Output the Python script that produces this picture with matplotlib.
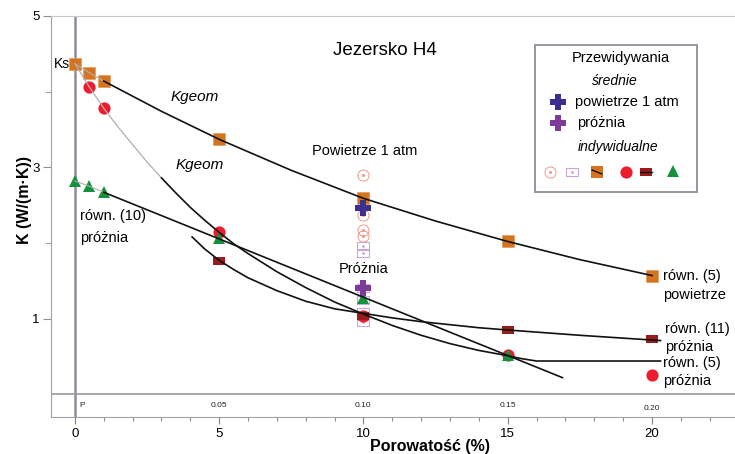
import matplotlib
matplotlib.use('Agg')
import matplotlib.pyplot as plt
from matplotlib.patches import Rectangle
from matplotlib.ticker import MultipleLocator, FixedLocator

plt.rcParams['font.family'] = ['Liberation Sans', 'DejaVu Sans']

# ---------------- data ----------------
por_orange = [0, 0.5, 1, 5, 10, 15, 20]
k_orange = [4.37, 4.25, 4.14, 3.37, 2.59, 2.02, 1.57]
por_red = [0.5, 1, 5, 10, 15, 20]
k_red = [4.06, 3.78, 2.14, 1.04, 0.52, 0.25]
por_green = [0, 0.5, 1, 5, 10, 15]
k_green = [2.82, 2.75, 2.67, 2.06, 1.27, 0.52]
por_dred = [5, 10, 15, 20]
k_dred = [1.76, 1.03, 0.85, 0.73]

por_mean = [10]
k_mean_air = [2.46]
k_mean_vac = [1.41]
k_ind_air = [2.90, 2.37, 2.17, 2.09]
k_ind_vac = [1.96, 1.87, 1.41, 1.25, 1.09, 1.03, 0.95]

# model curves
air_gray_por = [0, 0.5, 1]
air_gray_k = [4.37, 4.25, 4.14]
air_por = [1, 3, 5, 7.5, 10, 12.5, 15, 17.5, 20]
air_k = [4.14, 3.74, 3.37, 2.96, 2.59, 2.29, 2.02, 1.78, 1.57]

geom_gray_por = [0, 0.5, 1, 1.5, 2, 2.5, 3]
geom_gray_k = [4.37, 4.06, 3.78, 3.53, 3.30, 3.07, 2.86]
geom_por = [3, 3.5, 4, 4.5, 5, 5.5, 6, 7, 8, 9, 10, 11, 12, 13, 14, 15, 15.5, 16, 20.3]
geom_k = [2.86, 2.66, 2.47, 2.30, 2.14, 1.99, 1.86, 1.62, 1.41, 1.22, 1.06, 0.91,
          0.78, 0.67, 0.58, 0.51, 0.47, 0.44, 0.44]

eq10_gray_por = [0, 0.5, 1]
eq10_gray_k = [2.82, 2.75, 2.67]
eq10_por = [1, 16.9]
eq10_k = [2.67, 0.22]

eq11_por = [4.06, 4.5, 5, 5.5, 6, 7, 8, 9, 10, 11, 12, 13, 14, 15, 17.5, 20.3]
eq11_k = [2.08, 1.92, 1.77, 1.65, 1.54, 1.37, 1.23, 1.13, 1.07, 1.01, 0.96, 0.92,
          0.88, 0.85, 0.78, 0.71]

x_major = [0, 5, 10, 15, 20]
x_labels = ['0', '5', '10', '15', '20']
y_major = [1, 3, 5]
y_labels = ['1', '3', '5']
frac_pos = [0.25, 5, 10, 15, 20]
frac_labels = ['P', '0.05', '0.10', '0.15', '0.20']

# ---------------- colours ----------------
C_OR = '#D4741F'
C_RED = '#EE1C2E'
C_GRN = '#14913C'
C_DRED = '#9B1B1B'
C_BLUE = '#3B2F8F'
C_PURP = '#7E3C9A'
C_OC = '#F29A8A'
C_OR2 = '#C9A6DC'

W, H = 735, 454
fig = plt.figure(figsize=(W / 100, H / 100), dpi=100)
ax = fig.add_axes([51 / W, 37 / H, (W - 51) / W, (417 - 16) / H])
ax.set_xlim(-0.83, 22.88)
ax.set_ylim(-0.30, 5.0)

rect_marker = [(-1, -0.58), (1, -0.58), (1, 0.58), (-1, 0.58), (-1, -0.58)]
orect_marker = [(-1, -0.62), (1, -0.62), (1, 0.62), (-1, 0.62), (-1, -0.62)]

# reference lines
ax.axvline(0, color='#8C8CA0', lw=1.8, zorder=1)
ax.axhline(0, color='#9A9A9A', lw=1.2, zorder=1)

# individual predictions at 10 %
ax.plot([10] * len(k_ind_air), k_ind_air, ls='none', marker='o', ms=8, mfc='none',
        mec=C_OC, mew=0.7, zorder=2)
ax.plot([10] * len(k_ind_air), k_ind_air, ls='none', marker='o', ms=1.2,
        color=C_OC, zorder=2)
ax.plot([10] * len(k_ind_vac), k_ind_vac, ls='none', marker=orect_marker, ms=9,
        mfc='none', mec=C_OR2, mew=0.8, zorder=2)
ax.plot([10] * len(k_ind_vac), k_ind_vac, ls='none', marker='o', ms=1.0,
        color=C_OR2, zorder=2)

# point markers
ax.plot(por_orange, k_orange, ls='none', marker='s', ms=8.5, color=C_OR,
        mec='#E49A5A', mew=0.5, zorder=3)
ax.plot(por_red, k_red, ls='none', marker='o', ms=8.8, color=C_RED, mew=0, zorder=3)
ax.plot(por_green, k_green, ls='none', marker='^', ms=8.5, color=C_GRN, mew=0, zorder=3)
ax.plot(por_dred, k_dred, ls='none', marker=rect_marker, ms=8.8, color=C_DRED,
        mew=0, zorder=3)
ax.plot(por_mean, k_mean_air, ls='none', marker='P', ms=11, color=C_BLUE, mew=0, zorder=4)
ax.plot(por_mean, k_mean_vac, ls='none', marker='P', ms=11, color=C_PURP, mew=0, zorder=4)

# model lines (drawn over markers)
ax.plot(air_gray_por, air_gray_k, color='#B0B0B0', lw=0.8, zorder=5)
ax.plot(air_por, air_k, color='#111111', lw=1.2, zorder=5)
ax.plot(geom_gray_por, geom_gray_k, color='#B0B0B0', lw=0.9, zorder=5)
ax.plot(geom_por, geom_k, color='#111111', lw=1.2, zorder=5)
ax.plot(eq10_gray_por, eq10_gray_k, color='#B0B0B0', lw=0.8, zorder=5)
ax.plot(eq10_por, eq10_k, color='#111111', lw=1.2, zorder=5)
ax.plot(eq11_por, eq11_k, color='#111111', lw=1.2, zorder=5)

# axes styling
ax.spines['right'].set_visible(False)
ax.spines['top'].set_color('#C8C8C8')
ax.spines['left'].set_color('#A0A0A8')
ax.spines['bottom'].set_color('#A0A0A8')
ax.xaxis.set_major_locator(FixedLocator(x_major))
ax.set_xticklabels(x_labels)
ax.xaxis.set_minor_locator(MultipleLocator(1))
ax.yaxis.set_major_locator(FixedLocator(y_major))
ax.set_yticklabels(y_labels)
ax.yaxis.set_minor_locator(FixedLocator([2, 4]))
ax.tick_params(axis='x', which='major', length=5, width=0.8, color='#808080',
               labelsize=9.5, pad=3)
ax.tick_params(axis='x', which='minor', length=3, width=0.8, color='#909090')
ax.tick_params(axis='y', which='major', length=6, width=0.8, color='#909090',
               labelsize=9.5, pad=2)
ax.tick_params(axis='y', which='minor', length=4, width=0.8, color='#A0A0A0')

ax.set_xlabel('Porowatość (%)', fontsize=11.5, fontweight='bold', va='center')
ax.xaxis.set_label_coords((430 - 51) / 684, (417 - 446) / 401)
ax.set_ylabel('K (W/(m·K))', fontsize=11.5, fontweight='bold', va='center')
ax.yaxis.set_label_coords((25 - 51) / 684, (417 - 200) / 401)

# secondary fraction scale
for xp, lab in zip(frac_pos, frac_labels):
    ax.text(xp, -0.145 if lab != '0.20' else -0.19, lab, fontsize=6, ha='center',
            va='center', color='#222222')

# annotations
ax.text(10.75, 4.55, 'Jezersko H4', fontsize=13.5, ha='center', va='center')
ax.text(-0.18, 4.37, 'Ks', fontsize=10, ha='right', va='center')
ax.text(4.16, 3.93, 'Kgeom', fontsize=11, style='italic', ha='center', va='center')
ax.text(4.33, 3.03, 'Kgeom', fontsize=11, style='italic', ha='center', va='center')
ax.text(10.05, 3.22, 'Powietrze 1 atm', fontsize=10.5, ha='center', va='center')
ax.text(10.0, 1.66, 'Próżnia', fontsize=10.5, ha='center', va='center')
ax.text(0.17, 2.35, 'równ. (10)', fontsize=10.5, ha='left', va='center')
ax.text(0.17, 2.07, 'próżnia', fontsize=10.5, ha='left', va='center')
ax.text(20.38, 1.56, 'równ. (5)', fontsize=10.5, ha='left', va='center')
ax.text(20.38, 1.31, 'powietrze', fontsize=10.5, ha='left', va='center')
ax.text(20.45, 0.86, 'równ. (11)', fontsize=10.5, ha='left', va='center')
ax.text(20.45, 0.62, 'próżnia', fontsize=10.5, ha='left', va='center')
ax.text(20.4, 0.42, 'równ. (5)', fontsize=10.5, ha='left', va='center')
ax.text(20.4, 0.17, 'próżnia', fontsize=10.5, ha='left', va='center')

# ---------------- legend (figure pixel coords) ----------------
def F(px, py):
    return px / W, 1 - py / H

x0, y0 = F(535, 192)
x1, y1 = F(697, 45)
fig.add_artist(Rectangle((x0, y0), x1 - x0, y1 - y0, transform=fig.transFigure,
                         facecolor='white', edgecolor='#8E8E9A', lw=1.3, zorder=10))
tf = fig.transFigure
fig.text(*F(621, 58), 'Przewidywania', fontsize=10.5, ha='center', va='center', zorder=11)
fig.text(*F(615, 81), 'średnie', fontsize=10, style='italic', ha='center', va='center', zorder=11)
fig.text(*F(575, 102), 'powietrze 1 atm', fontsize=10.5, ha='left', va='center', zorder=11)
fig.text(*F(577, 123), 'próżnia', fontsize=10.5, ha='left', va='center', zorder=11)
fig.text(*F(618, 147), 'indywidualne', fontsize=10, style='italic', ha='center', va='center', zorder=11)

def lm(px, py, **kw):
    fx, fy = F(px, py)
    l = plt.Line2D([fx], [fy], transform=tf, ls='none', zorder=12, **kw)
    fig.add_artist(l)

lm(558, 102, marker='P', ms=11, color=C_BLUE, mew=0)
lm(558, 123, marker='P', ms=11, color=C_PURP, mew=0)
lm(550, 172, marker='o', ms=8, mfc='none', mec=C_OC, mew=0.7)
lm(550, 172, marker='o', ms=1.2, color=C_OC)
lm(572, 172, marker=orect_marker, ms=9, mfc='none', mec=C_OR2, mew=0.8)
lm(572, 172, marker='o', ms=1.0, color=C_OR2)
lm(597, 172, marker='s', ms=8, color=C_OR, mew=0)
fig.add_artist(plt.Line2D([F(592, 170)[0], F(602, 174)[0]], [F(592, 170)[1], F(602, 174)[1]],
                          transform=tf, color='#111111', lw=1, zorder=13))
lm(626, 172, marker='o', ms=8.8, color=C_RED, mew=0)
lm(646, 172, marker=rect_marker, ms=8.8, color=C_DRED, mew=0)
fig.add_artist(plt.Line2D([F(640, 172)[0], F(652, 172)[0]], [F(640, 172)[1], F(652, 172)[1]],
                          transform=tf, color='#111111', lw=1, zorder=13))
lm(673, 171, marker='^', ms=8.5, color=C_GRN, mew=0)

fig.savefig('out.png', dpi=100)
